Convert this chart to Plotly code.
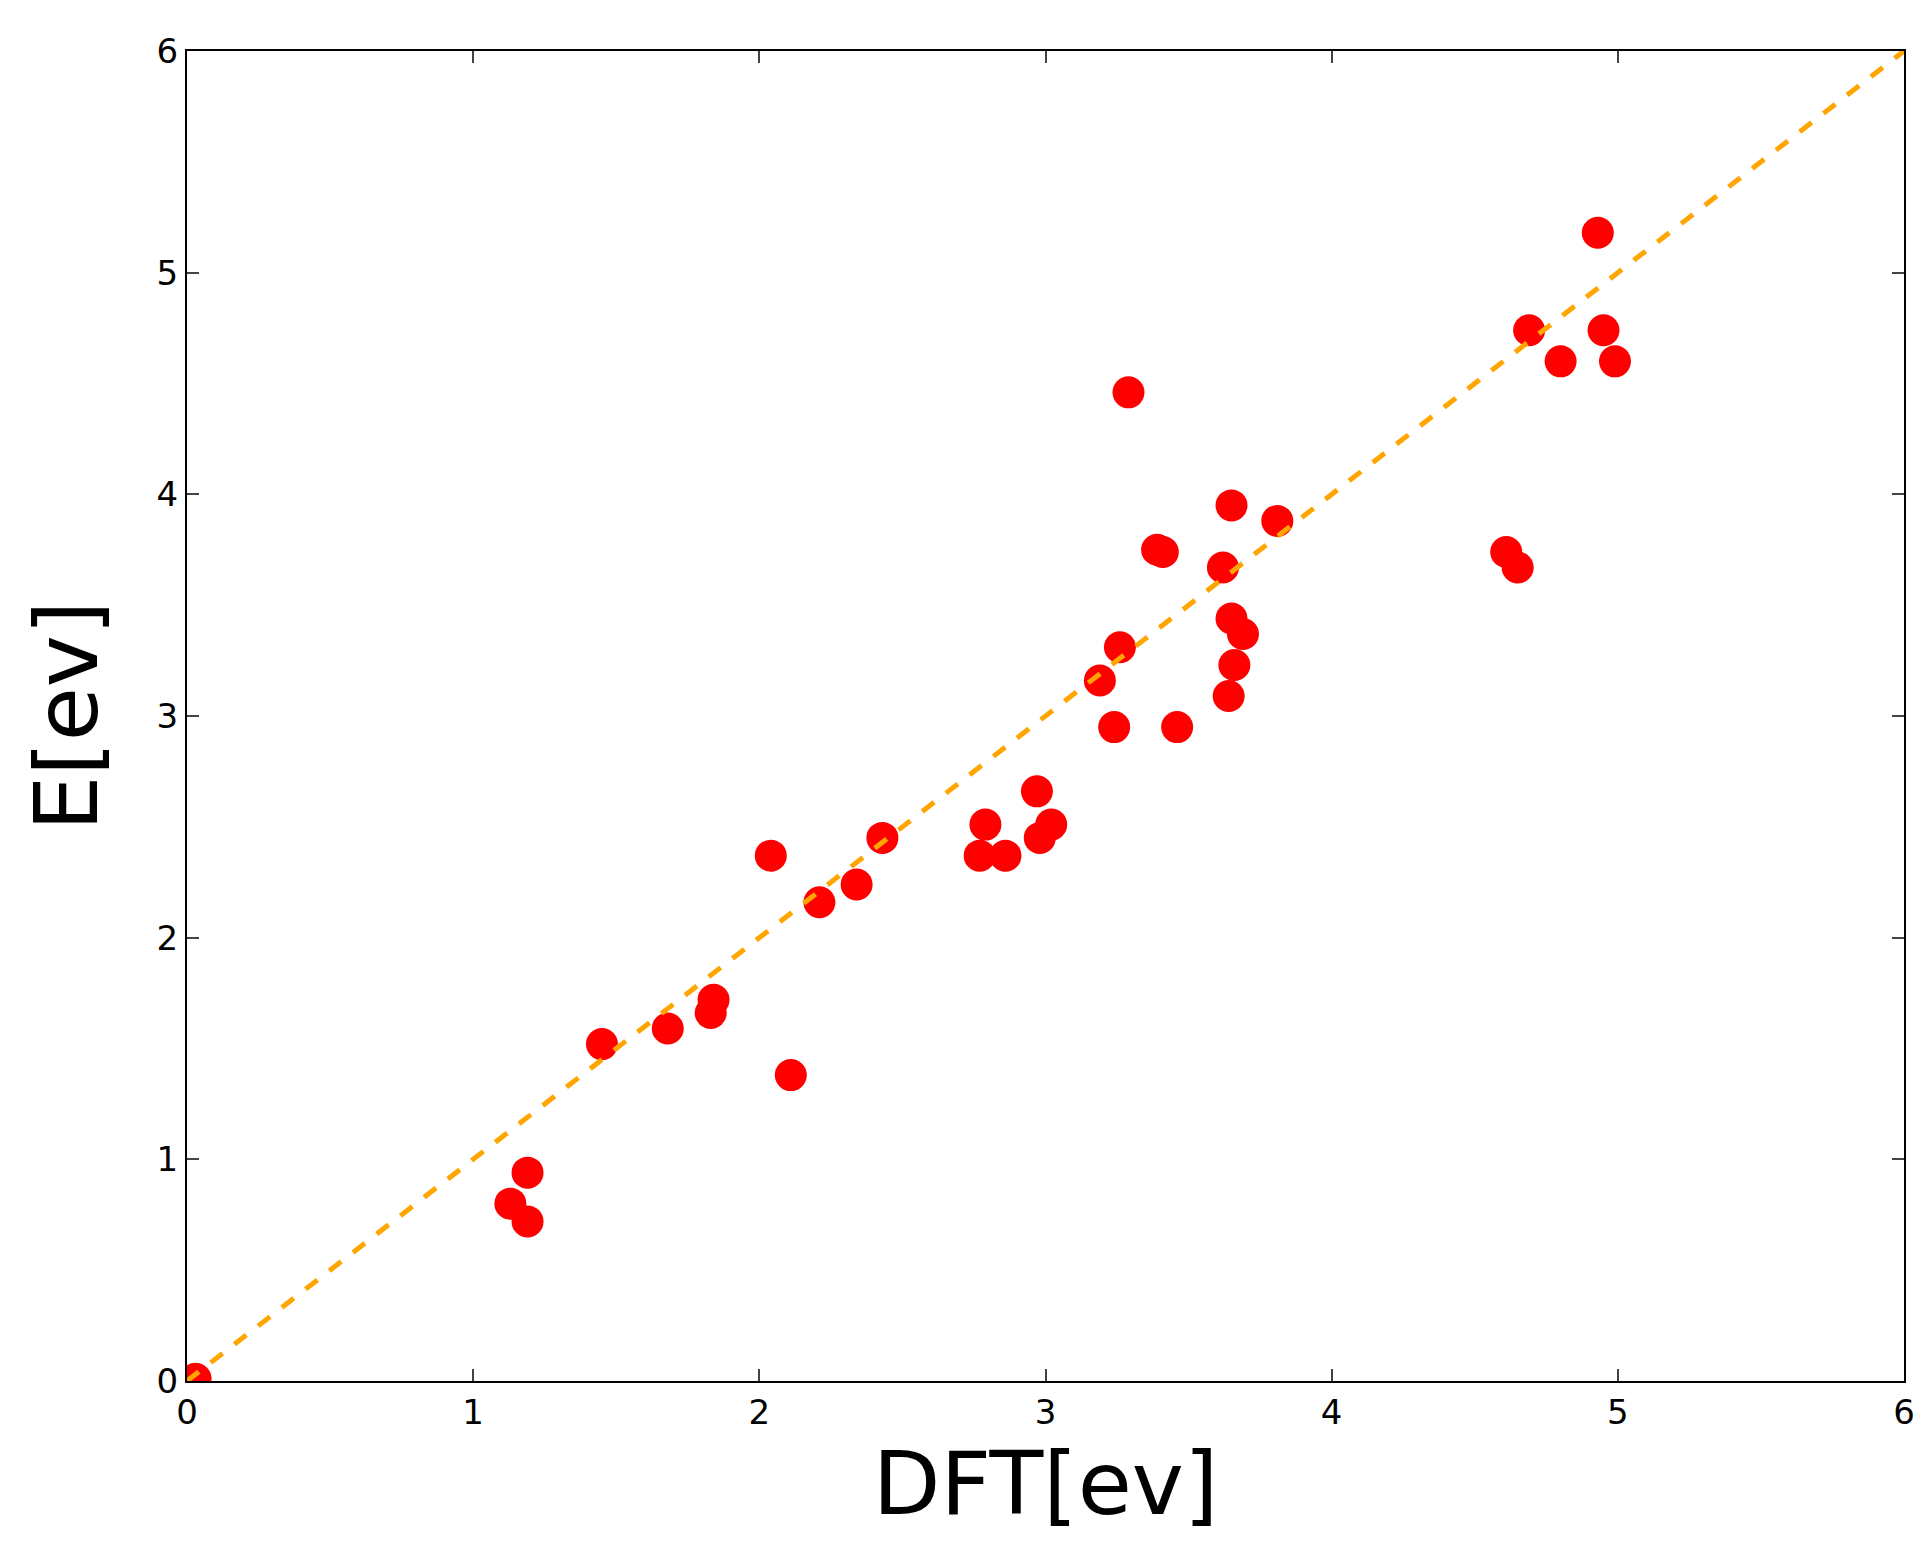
import plotly.graph_objects as go

dft = [0.03, 1.13, 1.19, 1.19, 1.45, 1.68, 1.83, 1.84, 2.04, 2.11, 2.21, 2.34, 2.43,
       2.77, 2.79, 2.86, 2.97, 2.98, 3.02, 3.19, 3.24, 3.26, 3.29, 3.39, 3.41, 3.46,
       3.62, 3.64, 3.65, 3.65, 3.66, 3.69, 3.81, 4.61, 4.65, 4.69, 4.80, 4.93, 4.95, 4.99]
energy = [0.01, 0.80, 0.94, 0.72, 1.52, 1.59, 1.66, 1.72, 2.37, 1.38, 2.16, 2.24, 2.45,
          2.37, 2.51, 2.37, 2.66, 2.45, 2.51, 3.16, 2.95, 3.31, 4.46, 3.75, 3.74, 2.95,
          3.67, 3.09, 3.95, 3.44, 3.23, 3.37, 3.88, 3.74, 3.67, 4.74, 4.60, 5.18, 4.74, 4.60]
diag = [0, 6]

fig = go.Figure()
fig.add_trace(go.Scatter(x=dft, y=energy, mode="markers",
                         marker=dict(color="red", size=32, line=dict(width=0))))
fig.add_trace(go.Scatter(x=diag, y=diag, mode="lines",
                         line=dict(color="orange", width=5, dash="dash")))

axis_style = dict(range=[0, 6], dtick=1, showline=True, linecolor="black", linewidth=2,
                  mirror="ticks", ticks="inside", ticklen=12, tickwidth=1.5,
                  showgrid=False, zeroline=False, tickfont=dict(size=34, color="black"))
fig.update_xaxes(title=dict(text="DFT[ev]", font=dict(size=88, color="black"), standoff=10), **axis_style)
fig.update_yaxes(title=dict(text="E[ev]", font=dict(size=88, color="black"), standoff=30), **axis_style)

fig.update_layout(
    width=1924, height=1560, showlegend=False,
    plot_bgcolor="white", paper_bgcolor="white",
    font=dict(family="DejaVu Sans"),
    margin=dict(l=179, r=28, t=43, b=187),
)
fig.write_html("out.html")
